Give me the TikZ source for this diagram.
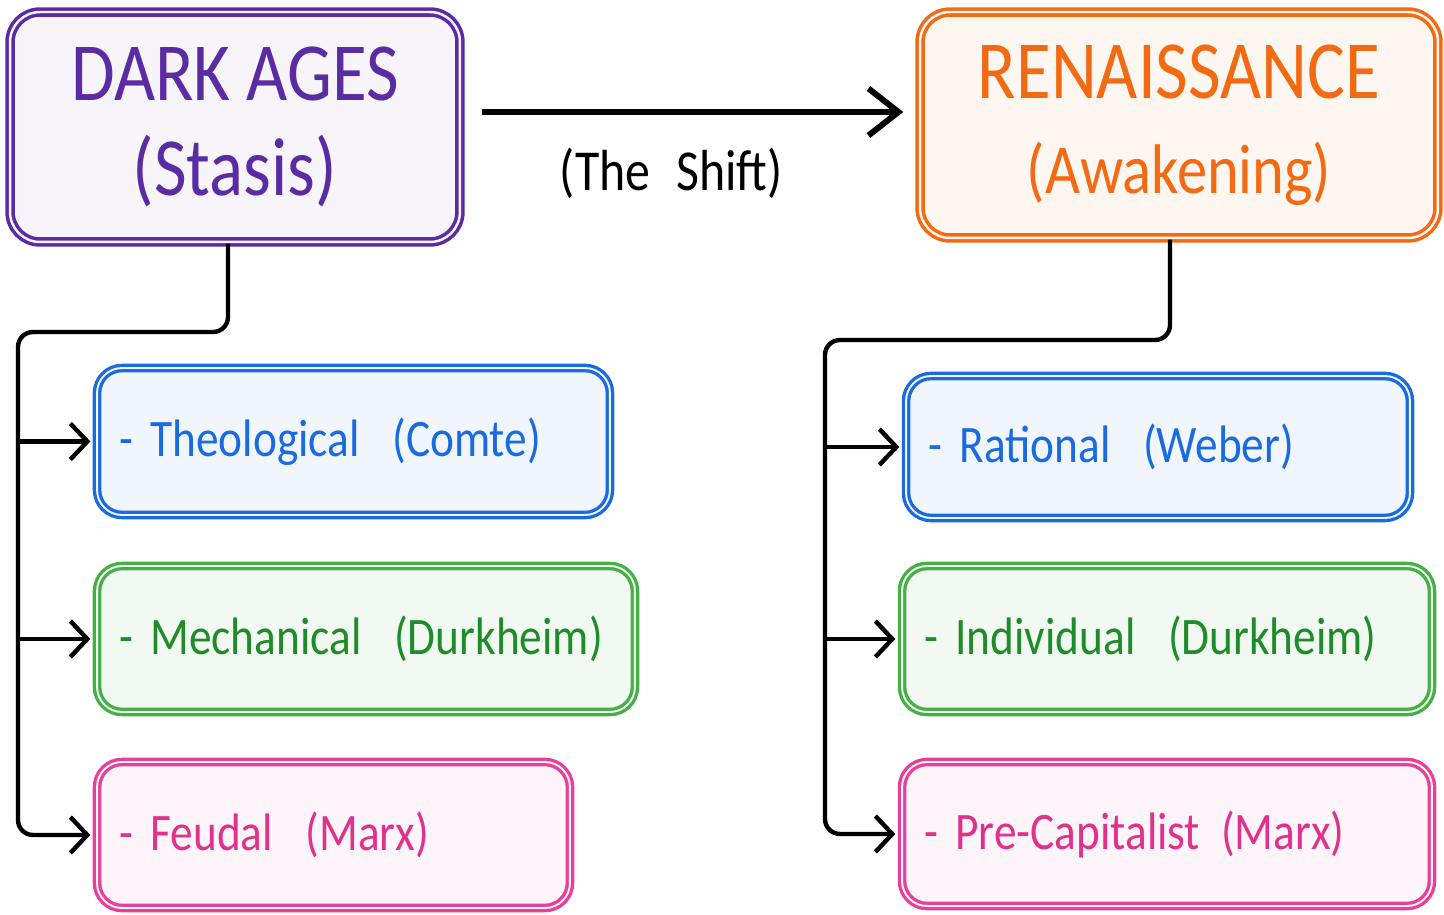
\documentclass[tikz,border=0pt]{standalone}
\usepackage{xcolor}
\usepackage{tikz}
\usepackage{fontspec}
\setmainfont{Carlito}[FakeStretch=0.86]
\usetikzlibrary{arrows.meta, positioning}
\definecolor{darkages}{HTML}{5A2BA3}
\definecolor{renaissance}{HTML}{F26A12}
\definecolor{rational}{HTML}{1A6BE0}
\definecolor{solidarity}{HTML}{45B045}
\definecolor{solidtext}{HTML}{1F8C2A}
\definecolor{economy}{HTML}{E6409A}
\definecolor{economytext}{HTML}{E0328C}
\newcommand{\gap}{\hspace{0.62em}}

\begin{document}
\begin{tikzpicture}[x=0.02cm, y=-0.02cm]
    \tikzstyle{era} = [rectangle, draw, line width=2pt, double distance=1.4pt, rounded corners=0.6cm, align=center, font=\fontsize{47}{54}\selectfont]
    \tikzstyle{stage} = [rectangle, draw, line width=1.9pt, double distance=1.1pt, rounded corners=0.5cm, align=left, inner xsep=0.44cm, font=\fontsize{30}{34}\selectfont]
    \tikzstyle{branch} = [line width=2.5pt, -{Straight Barb[length=3.4mm, width=7.2mm]}]
    \useasboundingbox (0,0) rectangle (1444,915);

    \node (dark) [era, minimum width=9cm, minimum height=4.6cm, fill=darkages!5, double=darkages!5, draw=darkages, text=darkages] at (235,127) {DARK AGES\\(Stasis)};
    \node (ren) [era, minimum width=10.36cm, minimum height=4.52cm, fill=renaissance!6, double=renaissance!6, draw=renaissance, text=renaissance] at (1179,125) {RENAISSANCE\\{\fontsize{40}{48}\selectfont(Awakening)}};

    \node (theo) [stage, text width=9.38cm, minimum height=2.94cm, fill=rational!6, double=rational!6, draw=rational, text=rational] at (353.5,441.5) {- Theological\gap(Comte)};
    \node (mech) [stage, text width=9.88cm, minimum height=2.92cm, fill=solidarity!7, double=solidarity!7, draw=solidarity, text=solidtext] at (366,639) {- Mechanical\gap(Durkheim)};
    \node (feudal) [stage, text width=8.58cm, minimum height=2.92cm, fill=economy!5, double=economy!5, draw=economy, text=economytext] at (333.5,835) {- Feudal\gap(Marx)};

    \node (rat) [stage, text width=9.2cm, minimum height=2.84cm, fill=rational!6, double=rational!6, draw=rational, text=rational] at (1158,447) {- Rational\gap(Weber)};
    \node (indiv) [stage, text width=9.72cm, minimum height=2.92cm, fill=solidarity!7, double=solidarity!7, draw=solidarity, text=solidtext] at (1167,639) {- Individual\gap(Durkheim)};
    \node (precap) [stage, text width=9.72cm, minimum height=2.88cm, fill=economy!5, double=economy!5, draw=economy, text=economytext] at (1167,834) {- Pre-Capitalist\hspace{0.4em}(Marx)};

    \draw [line width=3.4pt, -{Straight Barb[length=6mm, width=9.4mm]}] ([shift={(20,-15)}]dark.east) -- node (shift) [below=0.55cm, pos=0.45, font=\fontsize{33}{36}\selectfont] {(The\hspace{0.45em}Shift)} ([shift={(-15,-13)}]ren.west);

    \coordinate (lbus) at (18,332);
    \coordinate (rbus) at (825,340);
    \draw [branch, rounded corners=0.3cm] ([xshift=-0.14cm]dark.south) |- (lbus) |- ([xshift=-0.1cm]feudal.west);
    \draw [branch] (lbus |- theo.west) -- ([xshift=-0.1cm]theo.west);
    \draw [branch] (lbus |- mech.west) -- ([xshift=-0.1cm]mech.west);
    \draw [branch, rounded corners=0.3cm] ([xshift=-0.18cm]ren.south) |- (rbus) |- ([xshift=-0.1cm]precap.west);
    \draw [branch] (rbus |- rat.west) -- ([xshift=-0.1cm]rat.west);
    \draw [branch] (rbus |- indiv.west) -- ([xshift=-0.1cm]indiv.west);
\end{tikzpicture}
\end{document}
